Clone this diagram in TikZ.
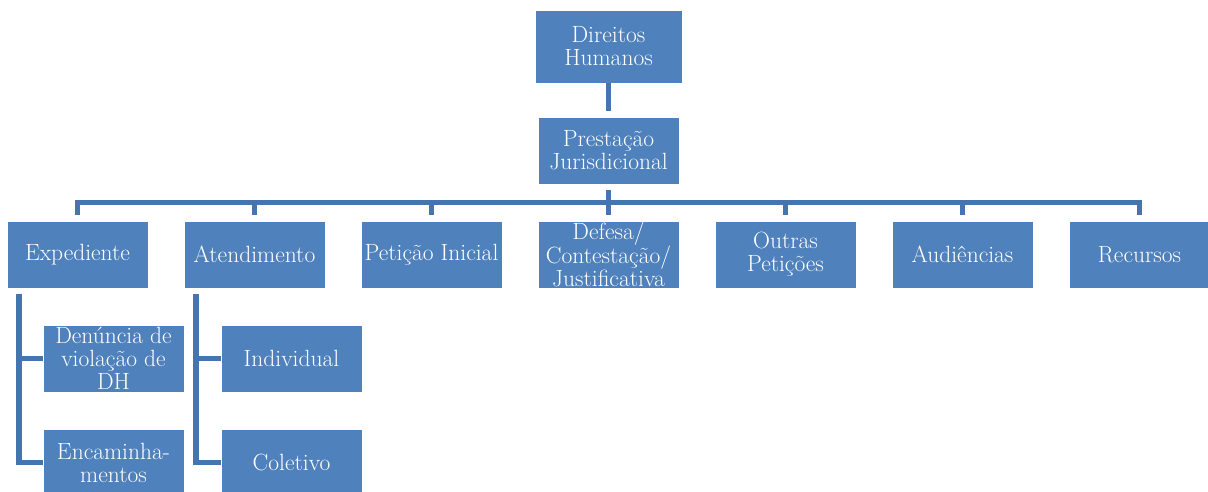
\documentclass[tikz,border=0pt]{standalone}
\definecolor{boxblue}{HTML}{4F81BD}
\definecolor{linkblue}{HTML}{4674AE}
\begin{document}
\begin{tikzpicture}[x=1pt,y=-1pt,
  box/.style={rectangle, fill=boxblue, draw=white, line width=0.8pt,
    minimum width=141pt, minimum height=67pt, inner sep=0pt,
    text=white, align=center, font=\fontsize{23.5}{23}\selectfont},
  conn/.style={draw=linkblue, line width=5.5pt, line join=miter}]
\useasboundingbox (0,0) rectangle (1208,492);

% top of the hierarchy
\node[box, minimum width=147pt, minimum height=73pt] (root) at (608.5,46.5) {Direitos\\Humanos};
\node[box] (prest) at (608.5,150.5) {Prestação\\Jurisdicional};

% first level
\node[box] (exp) at (77.5,254.5)  {Expediente};
\node[box] (ate) at (254.5,254.5) {Atendimento};
\node[box] (pet) at (431.5,254.5) {Petição Inicial};
\node[box] (def) at (608.5,254.5) {Defesa/\\Contestação/\\Justificativa};
\node[box] (out) at (785.5,254.5) {Outras\\Petições};
\node[box] (aud) at (962.5,254.5) {Audiências};
\node[box] (rec) at (1139.5,254.5) {Recursos};

% second level
\node[box] (den) at (113.5,358.5) {Denúncia de\\violação de\\DH};
\node[box] (enc) at (113.5,462.5) {Encaminha-\\mentos};
\node[box] (ind) at (291.5,358.5) {Individual};
\node[box] (col) at (291.5,462.5) {Coletivo};

% connectors
\draw[conn, shorten >=6pt] (root.south) -- (prest.north);
\foreach \c in {exp,ate,pet,def,out,aud,rec}
  \draw[conn, shorten <=6pt, shorten >=6pt] (prest.south) -- ++(0,18) -| (\c.north);

\foreach \p/\a/\b in {exp/den/enc, ate/ind/col}{
  \draw[conn] ([xshift=12.5pt,yshift=-6pt]\p.south west) |- (\a.west);
  \draw[conn] ([xshift=12.5pt,yshift=-6pt]\p.south west) |- (\b.west);
}
\end{tikzpicture}
\end{document}
